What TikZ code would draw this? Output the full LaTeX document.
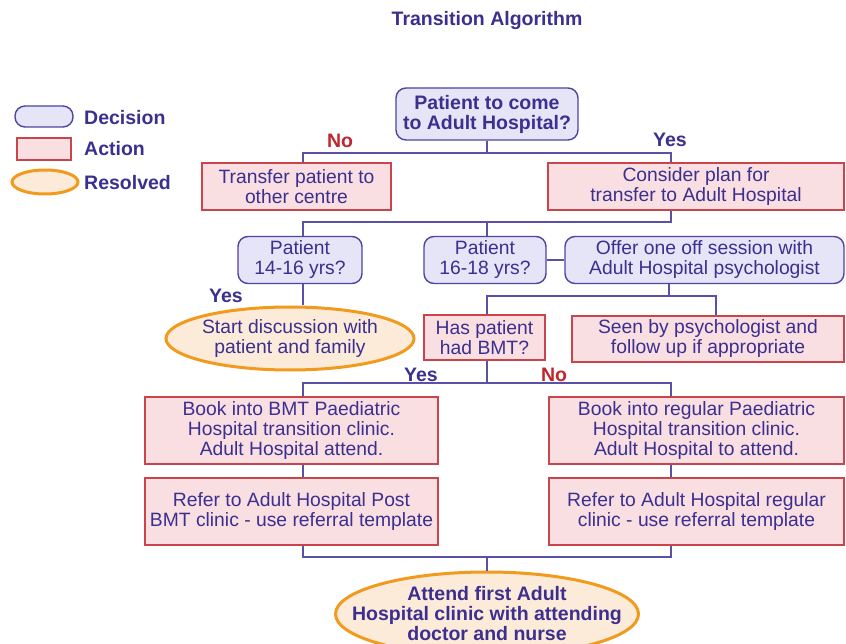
\documentclass[tikz,border=0pt]{standalone}
\usepackage{fontspec}
\setmainfont{Liberation Sans}
\usetikzlibrary{shapes.geometric}
\definecolor{txt}{HTML}{3B2F8F}
\definecolor{ln}{HTML}{5A50A8}
\definecolor{decfill}{HTML}{E6E4F7}
\definecolor{decdraw}{HTML}{4E44A2}
\definecolor{actfill}{HTML}{F9DFE2}
\definecolor{actdraw}{HTML}{C9454B}
\definecolor{resfill}{HTML}{FDEBD9}
\definecolor{resdraw}{HTML}{F29A1E}
\definecolor{nored}{HTML}{C0262C}
\begin{document}
\begin{tikzpicture}[x=1pt,y=-1pt,
  every node/.style={text=txt, font=\fontsize{19.3}{20}\selectfont, inner sep=0pt, align=center},
  decision/.style={draw=decdraw, fill=decfill, line width=1.4pt, rounded corners=10pt},
  action/.style={draw=actdraw, fill=actfill, line width=1.4pt},
  resolved/.style={ellipse, draw=resdraw, fill=resfill, line width=3pt},
  conn/.style={draw=ln, line width=1.4pt},
  boldtxt/.style={font=\fontsize{19.5}{20}\selectfont\bfseries},
  yeslab/.style={boldtxt},
  nolab/.style={boldtxt, text=nored},
  sz/.style 2 args={minimum width=#1pt, minimum height=#2pt},
]
\clip (0,0) rectangle (846,644);
\path[fill=white] (0,0) rectangle (846,644);

% title
\node[boldtxt] (title) at (487,21) {Transition Algorithm};

% legend
\node[decision, sz={58}{21}] (legdec) at (44,116.5) {};
\node[boldtxt, anchor=west] (legdect) at (84,117.5) {Decision};
\node[action, sz={54}{22}] (legact) at (44,149) {};
\node[boldtxt, anchor=west] (legactt) at (84,149) {Action};
\node[resolved, sz={66}{24}] (legres) at (45,182) {};
\node[boldtxt, anchor=west] (legrest) at (84,182.5) {Resolved};

% nodes
\node[decision, sz={182}{52}, boldtxt] (q1) at (487,114) {Patient to come\\to Adult Hospital?};
\node[action, sz={189}{47}] (tr) at (296.5,186.5) {Transfer patient to\\other centre};
\node[action, sz={296}{47}] (cp) at (696,186.5) {Consider plan for\\transfer to Adult Hospital};
\node[decision, sz={124}{47}] (p14) at (300,260) {Patient\\14-16 yrs?};
\node[decision, sz={122}{47}] (p16) at (485,260) {Patient\\16-18 yrs?};
\node[decision, sz={279}{47}] (off) at (704.5,260) {Offer one off session with\\Adult Hospital psychologist};
\node[resolved, sz={248}{63}] (sd) at (290,338.5) {};
\node (sdt) at (sd.center) {Start discussion with\\patient and family};
\node[action, sz={121}{45}] (bmt) at (484.5,337.5) {Has patient\\had BMT?};
\node[action, sz={272}{46}] (seen) at (708,339) {Seen by psychologist and\\follow up if appropriate};
\node[action, sz={293}{67}] (bk1) at (291.5,430.5) {Book into BMT Paediatric\\Hospital transition clinic.\\Adult Hospital attend.};
\node[action, sz={295}{67}] (bk2) at (696.5,430.5) {Book into regular Paediatric\\Hospital transition clinic.\\Adult Hospital to attend.};
\node[action, sz={293}{67}] (rf1) at (291.5,511.5) {Refer to Adult Hospital Post\\BMT clinic - use referral template};
\node[action, sz={295}{67}] (rf2) at (696.5,511.5) {Refer to Adult Hospital regular\\clinic - use referral template};
\node[resolved, sz={303}{84}] (fin) at (487,614) {};
\node[boldtxt] (fint) at (fin.center) {Attend first Adult\\Hospital clinic with attending\\doctor and nurse};

% labels
\node[nolab] (no1) at (340,141) {No};
\node[yeslab] (yes1) at (670,140) {Yes};
\node[yeslab] (yes2) at (226,296) {Yes};
\node[yeslab] (yes3) at (421,375) {Yes};
\node[nolab] (no2) at (554,375) {No};

% junction coordinates
\coordinate (j1L) at (303,153); \coordinate (j1R) at (671,153); \coordinate (j1M) at (487,153);
\coordinate (j2L) at (303,222); \coordinate (j2R) at (671,222); \coordinate (j2M) at (487,222);
\coordinate (j3L) at (487,296); \coordinate (j3R) at (716,296); \coordinate (j3M) at (669,296);
\coordinate (j4L) at (303,383); \coordinate (j4R) at (671,383); \coordinate (j4M) at (487,383);
\coordinate (j5L) at (303,557); \coordinate (j5R) at (671,557); \coordinate (j5M) at (487,557);

% connectors
\draw[conn] (q1.south) -- (j1M);
\draw[conn] (j1L |- tr.north) -- (j1L) -- (j1R) -- (j1R |- cp.north);
\draw[conn] (j2R |- cp.south) -- (j2R) -- (j2L) -- (j2L |- p14.north);
\draw[conn] (j2M) -- (j2M |- p16.north);
\draw[conn] (p16.east) -- (off.west);
\draw[conn] (j2L |- p14.south) -- (j2L |- sd.north);
\draw[conn] (j3M |- off.south) -- (j3M);
\draw[conn] (j3L |- bmt.north) -- (j3L) -- (j3R) -- (j3R |- seen.north);
\draw[conn] (j4M |- bmt.south) -- (j4M);
\draw[conn] (j4L |- bk1.north) -- (j4L) -- (j4R) -- (j4R |- bk2.north);
\draw[conn] (j4L |- bk1.south) -- (j4L |- rf1.north);
\draw[conn] (j4R |- bk2.south) -- (j4R |- rf2.north);
\draw[conn] (j5L |- rf1.south) -- (j5L) -- (j5R) -- (j5R |- rf2.south);
\draw[conn] (j5M) -- (j5M |- fin.north);
\end{tikzpicture}
\end{document}
